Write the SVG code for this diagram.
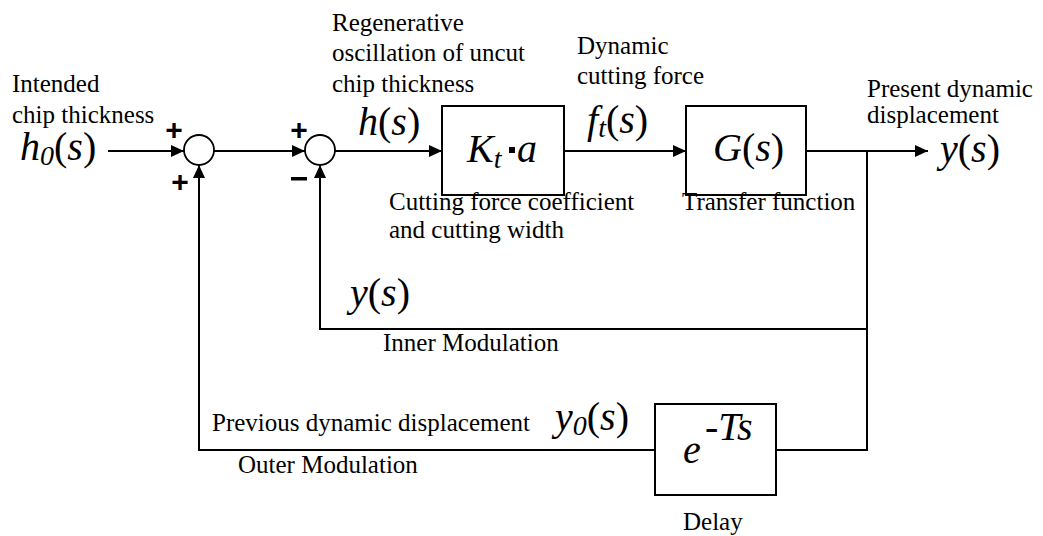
<svg xmlns="http://www.w3.org/2000/svg" width="1043" height="536" viewBox="0 0 1043 536">
<style>
text{font-family:'Liberation Serif','Times New Roman','DejaVu Serif',serif;fill:#000}
.lbl{font-size:25px}
.math{font-size:40px}
.it{font-style:italic}
.sgn{font-family:'Liberation Sans',Arial,sans-serif;font-weight:bold;font-size:30px}
.box{fill:#fff;stroke:#000;stroke-width:2}
.sum{fill:#fff;stroke:#000;stroke-width:1.8}
.wire{fill:none;stroke:#000;stroke-width:2}
</style>
<defs>
<marker id="arr" markerUnits="userSpaceOnUse" markerWidth="14" markerHeight="12" refX="13" refY="6" orient="auto">
<path d="M0,0 L13,6 L0,12 Z" fill="#000"/>
</marker>
</defs>
<g id="connectors">
<path class="wire" d="M108,151 H184" marker-end="url(#arr)"/>
<path class="wire" d="M214,151 H305" marker-end="url(#arr)"/>
<path class="wire" d="M335,151 H442" marker-end="url(#arr)"/>
<path class="wire" d="M564,151 H686" marker-end="url(#arr)"/>
<path class="wire" d="M806,151 H928" marker-end="url(#arr)"/>
<path class="wire" d="M867,151 V329 H320 V165" marker-end="url(#arr)"/>
<path class="wire" d="M867,329 V450 H776"/>
<path class="wire" d="M655,450 H199 V165" marker-end="url(#arr)"/>
</g>
<g id="sum1">
<circle class="sum" cx="199" cy="150" r="15"/>
<text class="sgn" x="174" y="140" text-anchor="middle">+</text>
<text class="sgn" x="180" y="192" text-anchor="middle">+</text>
</g>
<g id="sum2">
<circle class="sum" cx="320" cy="150" r="15"/>
<text class="sgn" x="299" y="140" text-anchor="middle">+</text>
<rect x="291" y="177" width="16" height="3.5" fill="#000"/>
</g>
<g id="block-k">
<rect class="box" x="442" y="106" width="122" height="89"/>
<text class="math" x="467" y="162" font-family="Liberation Serif, serif"><tspan class="it">K</tspan><tspan class="it" font-size="28" dy="6">t</tspan></text>
<rect x="509" y="147" width="6" height="6" fill="#000"/>
<text class="math it" x="517" y="162">a</text>
</g>
<g id="block-g">
<rect class="box" x="686" y="106" width="120" height="89"/>
<text class="math" x="713" y="161"><tspan class="it">G</tspan>(<tspan class="it">s</tspan>)</text>
</g>
<g id="block-delay">
<rect class="box" x="655" y="404" width="121" height="91"/>
<text class="math it" x="683" y="463" font-size="46">e</text>
<text class="math it" x="705" y="440" font-size="28">-Ts</text>
</g>
<g id="labels">
<text class="lbl" x="12" y="92">Intended</text>
<text class="lbl" x="12" y="123">chip thickness</text>
<text class="math" x="20" y="160"><tspan class="it">h</tspan><tspan class="it" font-size="28" dy="5">0</tspan><tspan dy="-5">(</tspan><tspan class="it">s</tspan>)</text>
<text class="lbl" x="332" y="31">Regenerative</text>
<text class="lbl" x="332" y="61">oscillation of uncut</text>
<text class="lbl" x="332" y="92">chip thickness</text>
<text class="math" x="358" y="135"><tspan class="it">h</tspan>(<tspan class="it">s</tspan>)</text>
<text class="lbl" x="577" y="54">Dynamic</text>
<text class="lbl" x="577" y="84">cutting force</text>
<text class="math" x="587" y="133"><tspan class="it">f</tspan><tspan class="it" font-size="28" dy="4">t</tspan><tspan dy="-4">(</tspan><tspan class="it">s</tspan>)</text>
<text class="lbl" x="867" y="97">Present dynamic</text>
<text class="lbl" x="867" y="123">displacement</text>
<text class="math" x="940" y="162"><tspan class="it">y</tspan>(<tspan class="it">s</tspan>)</text>
<text class="lbl" x="389" y="210">Cutting force coefficient</text>
<text class="lbl" x="389" y="238">and cutting width</text>
<text class="lbl" x="682" y="210">Transfer function</text>
<text class="math" x="350" y="306"><tspan class="it">y</tspan>(<tspan class="it">s</tspan>)</text>
<text class="lbl" x="383" y="351">Inner Modulation</text>
<text class="lbl" x="212" y="431">Previous dynamic displacement</text>
<text class="math" x="555" y="430"><tspan class="it">y</tspan><tspan class="it" font-size="28" dy="5">0</tspan><tspan dy="-5">(</tspan><tspan class="it">s</tspan>)</text>
<text class="lbl" x="238" y="473">Outer Modulation</text>
<text class="lbl" x="683" y="530">Delay</text>
</g>
</svg>
